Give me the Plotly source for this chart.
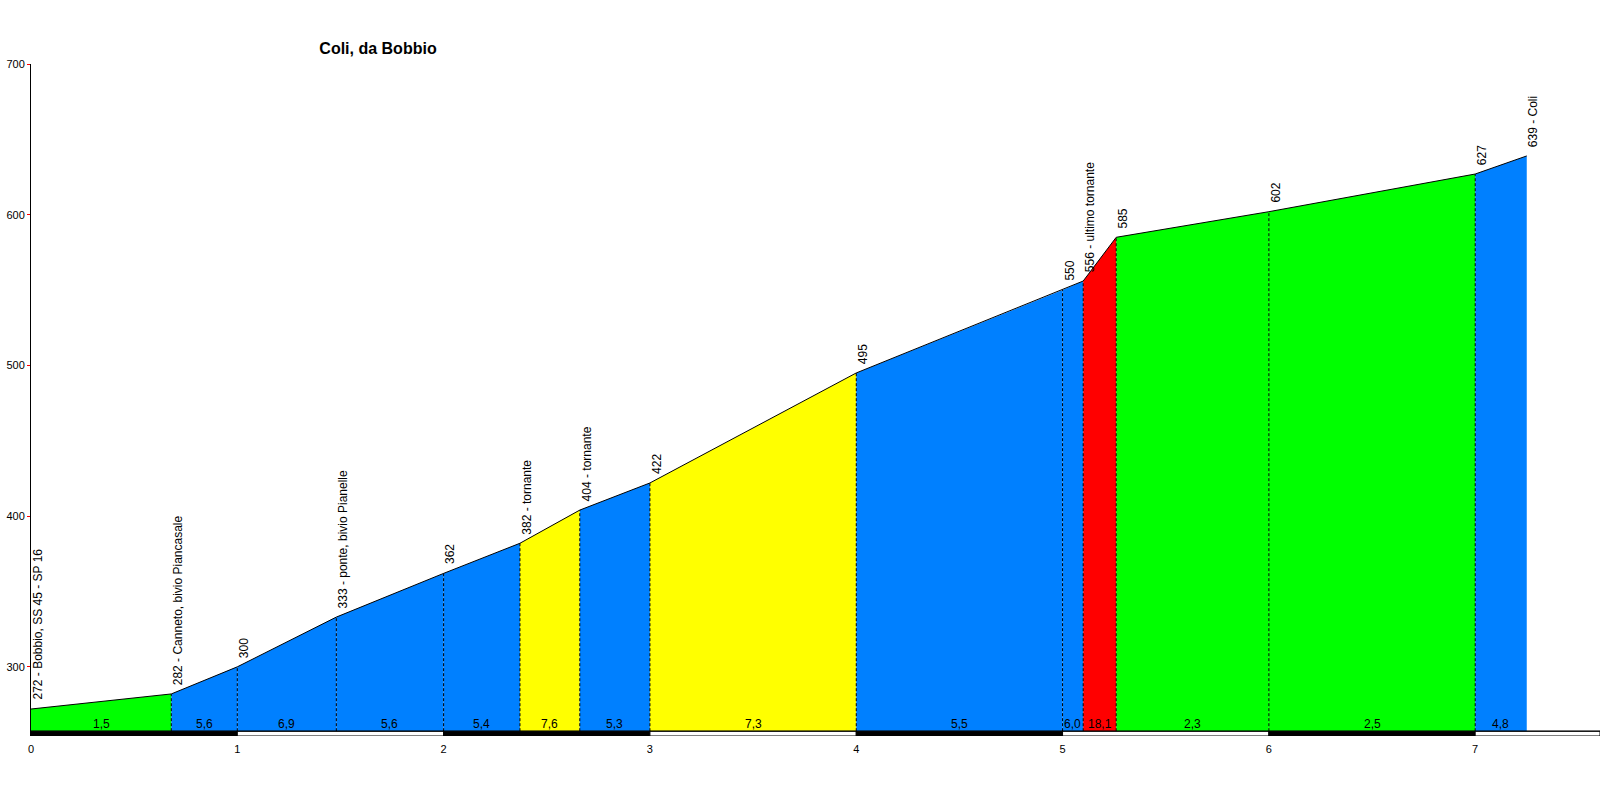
import plotly.graph_objects as go

# profile points: distance (km) and altitude (m)
km = [0, 0.68, 1.0, 1.48, 2.0, 2.37, 2.66, 3.0, 4.0, 5.0, 5.1, 5.26, 6.0, 7.0, 7.25]
elev = [272, 282, 300, 333, 362, 382, 404, 422, 495, 550, 556, 585, 602, 627, 639]
place = ["Bobbio, SS 45 - SP 16", "Canneto, bivio Piancasale", "", "ponte, bivio Pianelle", "",
         "tornante", "tornante", "", "", "", "ultimo tornante", "", "", "", "Coli"]

# gradient of each segment (%) and its colour class
grades = ["1,5", "5,6", "6,9", "5,6", "5,4", "7,6", "5,3", "7,3", "5,5", "6,0", "18,1", "2,3", "2,5", "4,8"]
seg_colors = ["#00ff00", "#0080ff", "#0080ff", "#0080ff", "#0080ff", "#ffff00", "#0080ff",
              "#ffff00", "#0080ff", "#0080ff", "#ff0000", "#00ff00", "#00ff00", "#0080ff"]

km_ticks = [0, 1, 2, 3, 4, 5, 6, 7]
y_ticks = [300, 400, 500, 600, 700]

BASE = 257.3
Y_MIN = 254.1
X_MAX = 7.605
FONT = "Arial, Liberation Sans, sans-serif"

fig = go.Figure()

# coloured segments
for i in range(len(km) - 1):
    fig.add_trace(go.Scatter(
        x=[km[i], km[i], km[i + 1], km[i + 1], km[i]],
        y=[BASE, elev[i], elev[i + 1], BASE, BASE],
        fill="toself", fillcolor=seg_colors[i], mode="none",
        hoverinfo="skip", showlegend=False
    ))
    fig.add_annotation(
        x=(km[i] + km[i + 1]) / 2, y=BASE, text=grades[i], showarrow=False,
        yanchor="bottom", yshift=-2, font=dict(family=FONT, size=12, color="black")
    )

# profile outline
fig.add_trace(go.Scatter(x=km, y=elev, mode="lines", line=dict(color="black", width=1),
                         hoverinfo="skip", showlegend=False))

# dashed separators
for x, y in zip(km[1:-1], elev[1:-1]):
    fig.add_shape(type="line", x0=x, x1=x, y0=BASE, y1=y,
                  line=dict(color="black", width=1, dash="3px,2px"))

# point labels
for x, y, p in zip(km, elev, place):
    txt = f"{y} - {p}" if p else str(y)
    fig.add_annotation(
        x=x, y=y, text=txt, textangle=-90, showarrow=False,
        xanchor="center", yanchor="bottom", xshift=7, yshift=7,
        font=dict(family=FONT, size=12, color="black")
    )

# km bar at the bottom
edges = km_ticks + [X_MAX]
for i in range(len(edges) - 1):
    fig.add_shape(type="rect", x0=edges[i], x1=edges[i + 1], y0=Y_MIN, y1=BASE,
                  fillcolor="black" if i % 2 == 0 else "white",
                  line=dict(color="black", width=1))
fig.add_shape(type="line", x0=0, x1=X_MAX, y0=BASE, y1=BASE, line=dict(color="black", width=1))

fig.update_layout(
    width=1600, height=800,
    margin=dict(l=31, r=0, t=64, b=64, autoexpand=False),
    plot_bgcolor="white", paper_bgcolor="white",
    hovermode=False,
    title=dict(text="<b>Coli, da Bobbio</b>", x=378 / 1600, xanchor="center",
               y=1 - 48 / 800, yanchor="middle",
               font=dict(family=FONT, size=16, color="black")),
    xaxis=dict(range=[0, X_MAX], tickvals=km_ticks, ticks="", showgrid=False, zeroline=False,
               showline=False, automargin=False, ticklabelstandoff=5,
               tickfont=dict(family=FONT, size=11, color="black")),
    yaxis=dict(range=[Y_MIN, 700], tickvals=y_ticks, ticks="outside", ticklen=3,
               tickcolor="red", showgrid=False, zeroline=False, showline=True,
               linecolor="black", linewidth=1, automargin=False,
               tickfont=dict(family=FONT, size=11, color="black")),
)

# drop the default 8px page margin so the figure sits at the window corner
fig.write_html("out.html", config={"displayModeBar": False},
               post_script="document.body.style.margin='0';")
